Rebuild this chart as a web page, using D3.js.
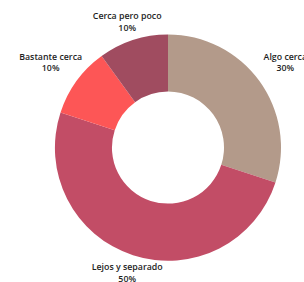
<!DOCTYPE html>
<html>
<head>
<meta charset="utf-8">
<script src="https://cdn.jsdelivr.net/npm/d3@7"></script>
<style>
  html, body { margin: 0; padding: 0; background: #fff; }
  svg { display: block; }
</style>
</head>
<body>
<div id="chart"></div>
<script>
// chart data
var categories = ["Algo cerca", "Lejos y separado", "Bastante cerca", "Cerca pero poco"];
var values = [30, 50, 10, 10];
var colors = ["#b39a8a", "#c24d66", "#fd5656", "#a04c60"];

var width = 304;
var height = 282;
var cx = 168, cy = 147.5;
var outerRadius = 113;
var innerRadius = 56;

var svg = d3.select("#chart")
  .append("svg")
    .attr("width", width)
    .attr("height", height)
  .append("g")
    .attr("transform", "translate(" + cx + "," + cy + ")");

var color = d3.scaleOrdinal()
  .domain(categories)
  .range(colors);

var pie = d3.pie()
  .sort(null)
  .value(function(d) { return d.value; });

var data_ready = pie(categories.map(function(c, i) { return {key: c, value: values[i]}; }));

var arcGenerator = d3.arc()
  .innerRadius(innerRadius)
  .outerRadius(outerRadius);

svg.selectAll("path.slice")
  .data(data_ready)
  .enter()
  .append("path")
    .attr("class", "slice")
    .attr("d", arcGenerator)
    .attr("fill", function(d) { return color(d.data.key); });

var total = d3.sum(values);

// labels sit outside the ring, pushed a bit further out on the sides (wide text)
function labelPos(d) {
  var a = (d.startAngle + d.endAngle) / 2;
  var r = 124 + 26 * Math.abs(Math.sin(a));
  return [Math.sin(a) * r, -Math.cos(a) * r];
}

var labels = svg.selectAll("text.lbl")
  .data(data_ready)
  .enter()
  .append("text")
    .attr("class", "lbl")
    .attr("transform", function(d) { return "translate(" + labelPos(d) + ")"; })
    .style("text-anchor", "middle")
    .style("font-family", "'Open Sans', sans-serif")
    .style("font-weight", 600)
    .style("font-size", "8.8px")
    .style("fill", "#1e1e1e");

labels.append("tspan")
  .attr("x", 0)
  .attr("dy", "-0.3em")
  .text(function(d) { return d.data.key; });

labels.append("tspan")
  .attr("x", 0)
  .attr("dy", "1.3em")
  .text(function(d) { return Math.round(d.data.value / total * 100) + "%"; });
</script>
</body>
</html>
